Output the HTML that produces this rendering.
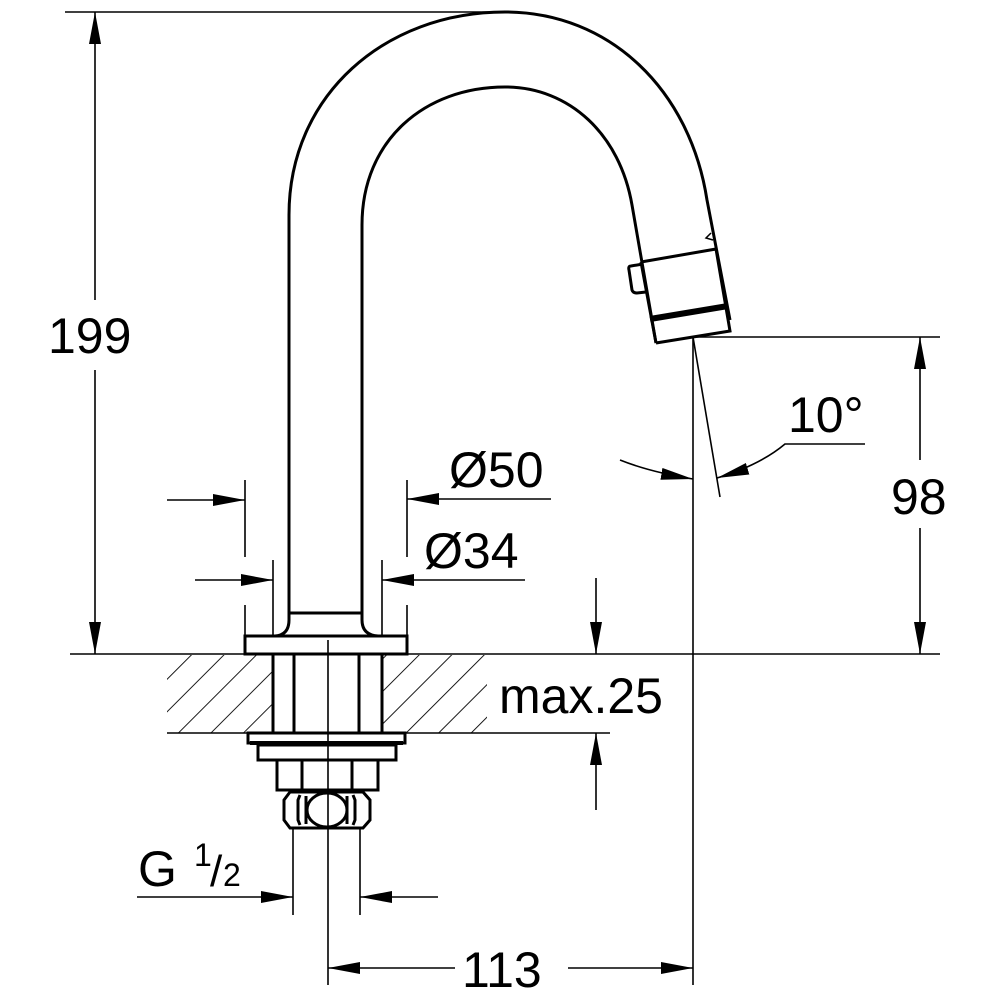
<!DOCTYPE html>
<html><head><style>html,body{margin:0;padding:0;background:#fff}svg{display:block}text{font-family:"Liberation Sans",sans-serif;fill:#000}</style></head>
<body>
<svg width="1000" height="1000" viewBox="0 0 1000 1000" xmlns="http://www.w3.org/2000/svg">
<defs>
<pattern id="h" patternUnits="userSpaceOnUse" width="23" height="23" patternTransform="rotate(45)">
<line x1="0" y1="0" x2="0" y2="23" stroke="#000" stroke-width="1.8"/>
</pattern>
<marker id="a" viewBox="0 0 32 12" refX="32" refY="6" markerWidth="32" markerHeight="12" markerUnits="userSpaceOnUse" orient="auto"><path d="M0,0 L32,6 L0,12z" fill="#000"/></marker>
</defs>
<g fill="none" stroke="#000" stroke-width="1.6">
<rect x="167" y="655" width="106" height="78" fill="url(#h)" stroke="none"/>
<rect x="382" y="655" width="105" height="78" fill="url(#h)" stroke="none"/>
<line x1="70" y1="654" x2="940" y2="654"/>
<line x1="167" y1="733" x2="487" y2="733"/>
<line x1="487" y1="733" x2="610" y2="733"/>
<g stroke-width="3">
<path d="M289,612 L289,215 C289,95 385,12 505,12 C610,12 690,90 707,200 L730,320"/>
<path d="M362,612 L362,225 C362,140 425,87 505,87 C570,87 620,135 632,205 L656,343"/>
<path d="M289,612 L289,620 Q289,635 275,636"/>
<path d="M362,612 L362,620 Q362,635 378,636"/>
<line x1="289" y1="613" x2="362" y2="613"/>
<rect x="245" y="636" width="162" height="18"/>
<path d="M641,262 L716,249 M656,343 L730,331 L716,249 M641,262 L656,343"/>
<path d="M643,264 L631,266 Q628,266 629,270 L632,290 Q633,293 637,293 L646,292"/>
<line x1="650" y1="319" x2="728" y2="306" stroke-width="6"/>
<path d="M711,233 L706,238 L713,240" stroke-width="1.5"/>
<line x1="273" y1="654" x2="273" y2="733"/><line x1="382" y1="654" x2="382" y2="733"/>
<line x1="294" y1="654" x2="294" y2="733"/><line x1="359" y1="654" x2="359" y2="733"/>
<rect x="248" y="733" width="157" height="10"/>
<line x1="250" y1="743" x2="403" y2="743" stroke-width="4"/>
<rect x="258" y="745" width="138" height="15"/>
<rect x="277" y="760" width="101" height="30"/>
<line x1="302" y1="760" x2="302" y2="790"/><line x1="352" y1="760" x2="352" y2="790"/>
<path d="M290,792 L363,792 L370,800 L370,820 L363,828 L290,828 L284,820 L284,800 Z"/>
<path d="M300,795 L298,800 L298,820 L300,825 M353,795 L355,800 L355,820 L353,825"/>
<path d="M306,796 L306,824 M347,796 L347,824"/>
<ellipse cx="327" cy="810" rx="20" ry="17"/>
</g>
<line x1="328" y1="640" x2="328" y2="985"/>
<line x1="293" y1="828" x2="293" y2="915"/><line x1="360" y1="828" x2="360" y2="915"/>
<line x1="65" y1="12" x2="500" y2="12"/>
<line x1="95" y1="300" x2="95" y2="12" marker-end="url(#a)"/>
<line x1="95" y1="370" x2="95" y2="654" marker-end="url(#a)"/>
<line x1="693" y1="337" x2="940" y2="337"/>
<line x1="920" y1="460" x2="920" y2="337" marker-end="url(#a)"/>
<line x1="920" y1="528" x2="920" y2="654" marker-end="url(#a)"/>
<line x1="693" y1="337" x2="693" y2="985"/>
<line x1="455" y1="968" x2="328" y2="968" marker-end="url(#a)"/>
<line x1="568" y1="968" x2="693" y2="968" marker-end="url(#a)"/>
<line x1="693" y1="337" x2="720" y2="497"/>
<path d="M620,460 Q650,472 693,479" marker-end="url(#a)"/>
<path d="M787,444 L785,444 Q760,465 717,478" marker-end="url(#a)"/>
<line x1="787" y1="444" x2="865" y2="444"/>
<line x1="245" y1="480" x2="245" y2="557"/><line x1="245" y1="605" x2="245" y2="636"/>
<line x1="407" y1="480" x2="407" y2="557"/><line x1="407" y1="605" x2="407" y2="636"/>
<line x1="167" y1="500" x2="245" y2="500" marker-end="url(#a)"/>
<line x1="551" y1="499" x2="407" y2="499" marker-end="url(#a)"/>
<line x1="273" y1="560" x2="273" y2="636"/><line x1="382" y1="560" x2="382" y2="636"/>
<line x1="195" y1="580" x2="273" y2="580" marker-end="url(#a)"/>
<line x1="525" y1="580" x2="382" y2="580" marker-end="url(#a)"/>
<line x1="596" y1="578" x2="596" y2="654" marker-end="url(#a)"/>
<line x1="596" y1="810" x2="596" y2="733" marker-end="url(#a)"/>
<line x1="137" y1="897" x2="293" y2="897" marker-end="url(#a)"/>
<line x1="438" y1="897" x2="360" y2="897" marker-end="url(#a)"/>
</g>
<g font-size="50">
<text x="48" y="353">199</text>
<text x="891" y="514">98</text>
<text x="462" y="987">113</text>
<text x="788" y="432">10°</text>
<text x="449" y="487">Ø50</text>
<text x="424" y="568">Ø34</text>
<text x="499" y="713">max.25</text>
<text x="138" y="886">G</text>
<text x="194" y="866" font-size="32">1</text>
<text x="210" y="886" font-size="44">/</text>
<text x="223" y="886" font-size="32">2</text>
</g>
</svg>
</body></html>
